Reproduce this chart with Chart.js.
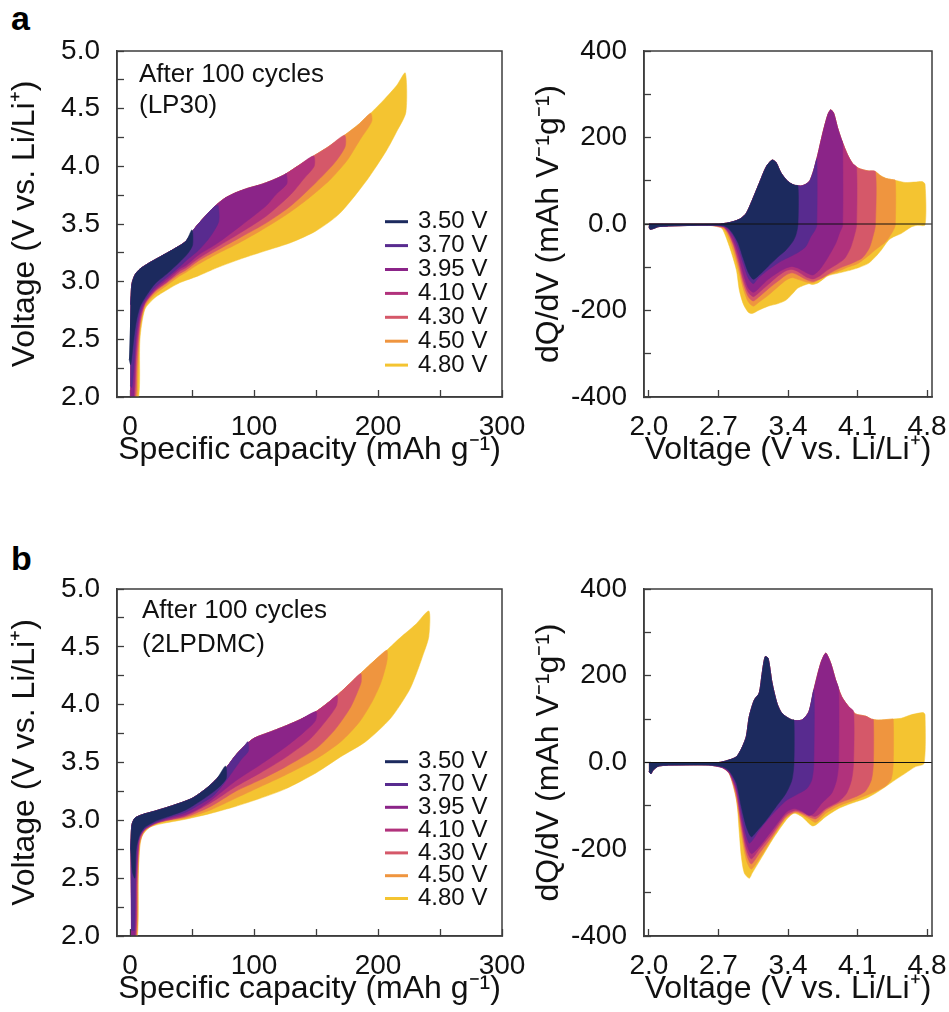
<!DOCTYPE html>
<html>
<head>
<meta charset="utf-8">
<script src="https://cdn.jsdelivr.net/npm/chart.js@4.4.1/dist/chart.umd.min.js"></script>
<style>
  html, body { margin: 0; padding: 0; background: #fff; }
  #page { position: relative; width: 949px; height: 1012px; overflow: hidden; }
  #page canvas { position: absolute; }
  .tag { position: absolute; font: bold 34px 'Liberation Sans', Arial, sans-serif; line-height: 34px; color: #000; }
</style>
</head>
<body>
<div id="page">
  <div class="tag" style="left:11px; top:1px;">a</div>
  <div class="tag" style="left:11px; top:541px;">b</div>
  <canvas id="lp30Volt" width="525" height="460" style="left:0; top:30px;"></canvas>
  <canvas id="lp30Dq" width="424" height="460" style="left:525px; top:30px;"></canvas>
  <canvas id="dmcVolt" width="525" height="444" style="left:0; top:568px;"></canvas>
  <canvas id="dmcDq" width="424" height="444" style="left:525px; top:568px;"></canvas>
</div>
<script>
const FONT = "'Liberation Sans', Arial, Helvetica, sans-serif";
const INK = '#111';
const FRAME = '#3d3d3d';

// upper cut-off voltages, legend order (first one is drawn on top)
const cutoffLabels = ['3.50 V', '3.70 V', '3.95 V', '4.10 V', '4.30 V', '4.50 V', '4.80 V'];
const cutoffColors = ['#1c2a5e', '#582b8f', '#8b2488', '#b1327c', '#d55869', '#ef953f', '#f4c431'];

// axes
const capRange = [-10.5, 300];
const capTicks = [0, 50, 100, 150, 200, 250, 300];
const capTickLabels = ['0', '', '100', '', '200', '', '300'];
const voltRange = [2, 5];
const voltTicks = [2.0, 2.25, 2.5, 2.75, 3.0, 3.25, 3.5, 3.75, 4.0, 4.25, 4.5, 4.75, 5.0];
const voltTickLabels = ['2.0', '', '2.5', '', '3.0', '', '3.5', '', '4.0', '', '4.5', '', '5.0'];
const sweepRange = [1.95, 4.85];
const sweepTicks = [2.0, 2.7, 3.4, 4.1, 4.8];
const sweepTickLabels = ['2.0', '2.7', '3.4', '4.1', '4.8'];
const dqRange = [-400, 400];
const dqTicks = [-400, -300, -200, -100, 0, 100, 200, 300, 400];
const dqTickLabels = ['-400', '', '-200', '', '0.0', '', '200', '', '400'];

// ---- LP30 voltage profiles [capacity, voltage] ----
const lp30Charge = [[0.5,2.80],[1.5,2.98],[4,3.06],[8,3.11],[15,3.16],[25,3.22],[35,3.28],[45,3.35],[52,3.46],[60,3.56],[68,3.65],[76,3.72],[85,3.77],[95,3.81],[105,3.84],[115,3.88],[125,3.93],[135,4.00],[148,4.09],[160,4.17],[173,4.27],[185,4.37],[194,4.46],[205,4.58],[215,4.70],[222,4.81]];
const lp30Dis350 = [[50,3.45],[50.5,3.32],[47,3.25],[40,3.17],[30,3.07],[20,2.98],[12,2.86],[8,2.78],[5,2.65],[3,2.50],[1.5,2.35],[0.5,2.28],[-0.8,2.33]];
const lp30Dis370 = [[71,3.66],[71.5,3.52],[64,3.38],[55,3.27],[45,3.18],[40,3.13],[30,3.04],[20,2.95],[12,2.84],[8,2.74],[5,2.55],[3,2.25],[1.5,2.08],[0.3,2.10]];
const lp30Dis395 = [[126,3.94],[126.5,3.85],[118,3.76],[110,3.66],[90,3.49],[70,3.33],[55,3.23],[45,3.14],[40,3.11],[30,3.02],[20,2.93],[12,2.82],[8,2.70],[5,2.45],[3.2,2.05],[3,2.00],[0.3,2.00]];
const lp30Dis410 = [[148,4.09],[148.5,4.00],[140,3.89],[130,3.76],[110,3.57],[90,3.43],[70,3.30],[55,3.20],[45,3.12],[40,3.09],[30,3.00],[20,2.92],[12,2.81],[8,2.66],[5,2.35],[3.5,2.00],[0.3,2.00]];
const lp30Dis430 = [[173,4.27],[173.5,4.17],[165,4.03],[150,3.86],[130,3.66],[110,3.51],[90,3.39],[70,3.27],[55,3.18],[45,3.10],[40,3.07],[30,2.99],[20,2.91],[12,2.80],[8,2.62],[5.5,2.25],[4.5,2.00],[0.3,2.00]];
const lp30Dis450 = [[194,4.46],[195,4.39],[185.5,4.23],[175,4.05],[161,3.88],[142.5,3.71],[126,3.58],[105,3.44],[85,3.32],[70,3.24],[55,3.15],[45,3.08],[40,3.05],[30,2.97],[20,2.89],[12,2.78],[8,2.58],[6,2.10],[5.5,2.00],[0.5,2.00]];
const lp30Dis480 = [[222,4.81],[222.5,4.47],[215,4.30],[207,4.14],[191,3.88],[169,3.59],[150,3.44],[130,3.34],[110,3.27],[90,3.20],[70,3.12],[55,3.05],[40,2.99],[30,2.93],[20,2.86],[12,2.76],[8,2.50],[7,2.00],[1,2.00]];

// ---- 2LPDMC voltage profiles [capacity, voltage] ----
const dmcCharge = [[0.5,2.75],[1.5,2.96],[4,3.02],[10,3.05],[20,3.08],[35,3.13],[50,3.19],[62,3.28],[70,3.36],[78,3.46],[85,3.56],[92,3.64],[100,3.71],[112,3.76],[124,3.81],[137,3.87],[150,3.94],[160,4.02],[168,4.09],[177,4.18],[186,4.27],[196,4.37],[207,4.47],[218,4.58],[230,4.69],[241,4.81]];
const dmcDis350 = [[77,3.47],[77.5,3.36],[70,3.27],[60,3.19],[45,3.09],[30,3.03],[20,2.99],[12,2.94],[8,2.88],[5,2.75],[4,2.50],[2,2.55],[0.5,2.75]];
const dmcDis370 = [[95,3.68],[95.5,3.60],[90,3.53],[80,3.38],[68,3.22],[55,3.13],[45,3.07],[30,3.02],[20,2.98],[12,2.93],[8,2.87],[6,2.80],[4.5,2.50],[3.5,2.05],[1,2.05]];
const dmcDis395 = [[150,3.94],[149.5,3.86],[140,3.76],[125,3.63],[105,3.48],[85,3.34],[65,3.17],[55,3.10],[45,3.05],[30,3.01],[20,2.975],[12,2.925],[8,2.86],[6.5,2.75],[5,2.50],[4,2.00],[0.8,2.00]];
const dmcDis410 = [[167,4.08],[166.5,3.99],[158,3.86],[145,3.70],[125,3.54],[105,3.41],[85,3.29],[65,3.15],[45,3.04],[30,3.00],[20,2.97],[12,2.92],[8,2.855],[7,2.80],[5.5,2.50],[4.5,2.00],[0.8,2.00]];
const dmcDis430 = [[186,4.27],[186.5,4.20],[185,4.15],[178,3.98],[165,3.78],[150,3.62],[125,3.46],[105,3.35],[85,3.25],[65,3.12],[45,3.03],[25,2.99],[12,2.915],[7.5,2.80],[6,2.50],[5,2.00],[1,2.00]];
const dmcDis450 = [[207,4.47],[207.5,4.40],[206,4.32],[202,4.18],[195,4.02],[185,3.85],[170,3.68],[150,3.53],[125,3.39],[105,3.29],[85,3.19],[65,3.09],[45,3.02],[25,2.985],[12,2.91],[8,2.80],[6.5,2.50],[5.5,2.00],[1,2.00]];
const dmcDis480 = [[241,4.81],[241,4.59],[236,4.42],[231,4.27],[225,4.12],[210,3.88],[190,3.68],[170,3.55],[150,3.41],[125,3.27],[105,3.19],[85,3.12],[65,3.06],[45,3.01],[25,2.97],[16,2.94],[10,2.87],[8,2.78],[6.7,2.54],[6,2.00],[1.5,2.00]];

// ---- LP30 dQ/dV [voltage, dQ/dV] ----
const lp30DqCharge = [[2.0,0],[2.7,0],[2.78,2],[2.84,5],[2.92,12],[2.98,25],[3.04,55],[3.11,94],[3.18,132],[3.24,148],[3.28,142],[3.33,118],[3.4,98],[3.46,90],[3.53,88],[3.58,92],[3.62,100],[3.66,125],[3.7,160],[3.75,210],[3.8,252],[3.83,264],[3.86,256],[3.9,222],[3.94,194],[4.0,160],[4.05,140],[4.11,129],[4.2,123],[4.28,121],[4.33,112],[4.38,106],[4.44,103],[4.5,100],[4.58,96],[4.68,97],[4.75,98],[4.78,92]];
const lp30DqDis350 = [[3.50,88],[3.50,-2],[3.48,-25],[3.45,-40],[3.38,-60],[3.3,-76],[3.2,-98],[3.1,-120],[3.05,-128],[3.0,-112],[2.95,-80],[2.9,-45],[2.85,-24],[2.8,-10],[2.75,-4],[2.6,-3],[2.3,-4],[2.1,-6],[2.04,-11],[2.01,-12],[2.0,-6]];
const lp30DqDis370 = [[3.69,150],[3.69,-3],[3.67,-15],[3.63,-29],[3.58,-52],[3.5,-66],[3.45,-72],[3.38,-80],[3.3,-90],[3.2,-106],[3.1,-125],[3.05,-138],[3.0,-125],[2.95,-92],[2.9,-55],[2.85,-28],[2.8,-12],[2.75,-5],[2.6,-3],[2.3,-4],[2.1,-6],[2.04,-11],[2.01,-12],[2.0,-6]];
const lp30DqDis395 = [[3.95,188],[3.95,-3],[3.92,-20],[3.88,-45],[3.8,-78],[3.72,-105],[3.65,-118],[3.58,-112],[3.5,-102],[3.44,-98],[3.38,-102],[3.3,-112],[3.2,-128],[3.1,-150],[3.05,-158],[3.0,-148],[2.95,-115],[2.9,-70],[2.85,-38],[2.8,-17],[2.75,-6],[2.6,-3],[2.3,-4],[2.1,-6],[2.04,-11],[2.01,-12],[2.0,-6]];
const lp30DqDis410 = [[4.09,131],[4.09,-3],[4.07,-25],[4.03,-55],[3.97,-80],[3.9,-92],[3.8,-106],[3.72,-120],[3.65,-127],[3.58,-122],[3.5,-110],[3.44,-105],[3.38,-108],[3.3,-120],[3.2,-140],[3.1,-160],[3.05,-168],[3.0,-158],[2.95,-128],[2.9,-82],[2.85,-45],[2.8,-20],[2.75,-7],[2.6,-3],[2.3,-4],[2.1,-6],[2.04,-11],[2.01,-12],[2.0,-6]];
const lp30DqDis430 = [[4.28,121],[4.28,-3],[4.26,-25],[4.22,-55],[4.15,-78],[4.05,-90],[3.95,-99],[3.85,-110],[3.75,-124],[3.65,-133],[3.58,-128],[3.5,-118],[3.44,-113],[3.38,-118],[3.3,-132],[3.2,-150],[3.1,-170],[3.05,-178],[3.0,-168],[2.95,-138],[2.9,-92],[2.85,-50],[2.8,-23],[2.75,-8],[2.6,-3],[2.3,-4],[2.1,-6],[2.04,-11],[2.01,-12],[2.0,-6]];
const lp30DqDis450 = [[4.48,101],[4.48,-3],[4.46,-15],[4.42,-30],[4.38,-42],[4.3,-56],[4.2,-75],[4.1,-92],[4.0,-100],[3.9,-110],[3.8,-118],[3.72,-128],[3.65,-136],[3.58,-134],[3.5,-128],[3.44,-124],[3.38,-130],[3.3,-145],[3.2,-165],[3.1,-182],[3.05,-190],[3.0,-180],[2.95,-150],[2.9,-105],[2.85,-62],[2.8,-30],[2.75,-11],[2.6,-3],[2.3,-4],[2.1,-6],[2.04,-11],[2.01,-12],[2.0,-6]];
const lp30DqDis480 = [[4.78,92],[4.78,-2],[4.7,-3],[4.64,-7],[4.54,-22],[4.46,-30],[4.41,-38],[4.34,-60],[4.28,-76],[4.21,-91],[4.12,-100],[4.04,-106],[3.9,-114],[3.8,-120],[3.71,-135],[3.65,-140],[3.61,-138],[3.5,-148],[3.45,-160],[3.38,-176],[3.3,-184],[3.2,-190],[3.1,-200],[3.04,-207],[3.0,-204],[2.95,-185],[2.91,-153],[2.88,-106],[2.81,-52],[2.75,-16],[2.71,-4],[2.6,-3],[2.3,-4],[2.1,-6],[2.04,-11],[2.01,-12],[2.0,-6]];

// ---- 2LPDMC dQ/dV [voltage, dQ/dV] ----
const dmcDqCharge = [[2.0,0],[2.7,0],[2.78,4],[2.88,13],[2.94,36],[2.98,60],[3.01,106],[3.06,144],[3.11,160],[3.14,206],[3.17,244],[3.2,240],[3.24,183],[3.29,136],[3.34,113],[3.44,98],[3.54,98],[3.61,117],[3.66,167],[3.73,229],[3.78,252],[3.83,229],[3.88,190],[3.94,152],[4.01,129],[4.08,112],[4.18,107],[4.24,100],[4.31,98],[4.44,100],[4.54,102],[4.64,110],[4.76,115],[4.78,110]];
const dmcDqDis350 = [[3.46,98],[3.46,-2],[3.44,-40],[3.38,-71],[3.28,-102],[3.18,-133],[3.08,-160],[3.03,-171],[2.98,-148],[2.93,-102],[2.88,-48],[2.81,-20],[2.74,-10],[2.6,-6],[2.3,-6],[2.1,-8],[2.04,-18],[2.02,-26],[2.0,-20]];
const dmcDqDis370 = [[3.66,167],[3.66,-2],[3.64,-40],[3.59,-60],[3.48,-75],[3.38,-88],[3.24,-120],[3.11,-156],[3.04,-180],[3.01,-186],[2.97,-160],[2.93,-115],[2.88,-55],[2.81,-22],[2.74,-11],[2.6,-6],[2.3,-6],[2.1,-8],[2.04,-18],[2.02,-26],[2.0,-20]];
const dmcDqDis395 = [[3.91,170],[3.91,-2],[3.89,-40],[3.84,-71],[3.74,-94],[3.66,-117],[3.61,-122],[3.54,-112],[3.46,-106],[3.38,-115],[3.24,-156],[3.11,-194],[3.03,-210],[2.98,-185],[2.93,-130],[2.88,-62],[2.81,-24],[2.74,-12],[2.6,-6],[2.3,-6],[2.1,-8],[2.04,-18],[2.02,-26],[2.0,-20]];
const dmcDqDis410 = [[4.06,118],[4.06,-2],[4.04,-40],[3.99,-71],[3.91,-90],[3.78,-106],[3.68,-124],[3.6,-120],[3.48,-110],[3.38,-120],[3.24,-163],[3.11,-200],[3.03,-222],[2.98,-198],[2.93,-140],[2.88,-68],[2.81,-25],[2.74,-12],[2.6,-6],[2.3,-6],[2.1,-8],[2.04,-18],[2.02,-26],[2.0,-20]];
const dmcDqDis430 = [[4.26,99],[4.26,-2],[4.24,-40],[4.18,-66],[4.08,-79],[3.91,-94],[3.78,-110],[3.68,-130],[3.6,-124],[3.48,-113],[3.38,-125],[3.24,-170],[3.11,-210],[3.03,-234],[2.98,-210],[2.93,-150],[2.88,-75],[2.81,-25],[2.74,-12],[2.6,-6],[2.3,-6],[2.1,-8],[2.04,-18],[2.02,-26],[2.0,-20]];
const dmcDqDis450 = [[4.46,100],[4.46,-2],[4.44,-38],[4.38,-55],[4.28,-67],[4.1,-84],[3.91,-100],[3.78,-117],[3.68,-138],[3.6,-128],[3.48,-115],[3.38,-128],[3.24,-175],[3.11,-222],[3.03,-246],[2.98,-225],[2.93,-165],[2.88,-85],[2.81,-27],[2.74,-12],[2.6,-6],[2.3,-6],[2.1,-8],[2.04,-18],[2.02,-26],[2.0,-20]];
const dmcDqDis480 = [[4.78,110],[4.77,-2],[4.68,-10],[4.58,-25],[4.48,-40],[4.38,-56],[4.28,-71],[4.18,-83],[4.04,-94],[3.91,-106],[3.78,-125],[3.68,-144],[3.64,-146],[3.54,-125],[3.46,-117],[3.38,-133],[3.24,-179],[3.14,-217],[3.04,-255],[3.01,-267],[2.96,-255],[2.93,-217],[2.91,-163],[2.89,-102],[2.86,-56],[2.81,-25],[2.76,-13],[2.71,-9],[2.6,-6],[2.3,-6],[2.1,-8],[2.04,-18],[2.02,-26],[2.0,-20]];

const lp30Discharge = [lp30Dis350, lp30Dis370, lp30Dis395, lp30Dis410, lp30Dis430, lp30Dis450, lp30Dis480];
const dmcDischarge = [dmcDis350, dmcDis370, dmcDis395, dmcDis410, dmcDis430, dmcDis450, dmcDis480];
const lp30DqDischarge = [lp30DqDis350, lp30DqDis370, lp30DqDis395, lp30DqDis410, lp30DqDis430, lp30DqDis450, lp30DqDis480];
const dmcDqDischarge = [dmcDqDis350, dmcDqDis370, dmcDqDis395, dmcDqDis410, dmcDqDis430, dmcDqDis450, dmcDqDis480];

// closed loop = charge branch up to the cut-off, then the discharge branch back
function loop(charge, discharge, gap) {
  const end = discharge[0][0];
  return charge.filter(p => p[0] < end - gap).concat(discharge).map(p => ({x: p[0], y: p[1]}));
}

function loopSets(charge, discharges, gap) {
  return discharges.map((d, i) => ({
    label: cutoffLabels[i],
    data: loop(charge, d, gap),
    fill: 'shape',
    backgroundColor: cutoffColors[i],
    borderColor: cutoffColors[i],
    borderWidth: 0.5,
    pointRadius: 0,
    tension: 0.25
  }));
}

function axis(range, ticks, labels, title, size, titlePad) {
  return {
    type: 'linear',
    min: range[0],
    max: range[1],
    afterBuildTicks: ax => { ax.ticks = ticks.map(v => ({value: v})); },
    afterFit: ax => {
      if (ax.isHorizontal()) ax.height = size; else ax.width = size;
      ax.paddingLeft = 0; ax.paddingRight = 0; ax.paddingTop = 0; ax.paddingBottom = 0;
    },
    ticks: {
      callback: (v, i) => labels[i],
      autoSkip: false, maxRotation: 0,
      font: {family: FONT, size: 28}, color: INK,
      padding: size > 100 ? 24 : 20.5
    },
    grid: {drawOnChartArea: false, drawTicks: true, tickLength: -7, tickColor: FRAME, tickWidth: 1.3},
    border: {display: true, color: FRAME, width: 1.5},
    title: {display: true, text: title, font: {family: FONT, size: 32}, color: INK, padding: titlePad}
  };
}

const framePlugin = {
  id: 'frame',
  afterDraw(chart) {
    const {ctx, chartArea: a} = chart;
    ctx.save();
    ctx.strokeStyle = FRAME;
    ctx.lineWidth = 1.5;
    ctx.strokeRect(a.left, a.top, a.right - a.left, a.bottom - a.top);
    ctx.restore();
  }
};

function notes(lines, dx, baselines, legTop, legStep) {
  return {
    id: 'notes',
    afterDraw(chart) {
      const {ctx, chartArea: a} = chart;
      ctx.save();
      ctx.fillStyle = INK;
      ctx.font = '26px ' + FONT;
      ctx.textBaseline = 'alphabetic';
      lines.forEach((t, i) => ctx.fillText(t, a.left + dx, a.top + baselines[i]));
      ctx.font = '24px ' + FONT;
      ctx.textBaseline = 'middle';
      cutoffLabels.forEach((t, i) => {
        const y = a.top + legTop + i * legStep;
        ctx.strokeStyle = cutoffColors[i];
        ctx.lineWidth = 3;
        ctx.beginPath();
        ctx.moveTo(a.left + 268, y);
        ctx.lineTo(a.left + 291, y);
        ctx.stroke();
        ctx.fillText(t, a.left + 301, y);
      });
      ctx.restore();
    }
  };
}

function panel(id, datasets, x, y, pad, extra) {
  new Chart(document.getElementById(id), {
    type: 'line',
    data: {datasets: datasets},
    options: {
      responsive: false,
      animation: false,
      events: [],
      layout: {padding: pad},
      scales: {x: x, y: y},
      plugins: {legend: {display: false}, tooltip: {enabled: false}}
    },
    plugins: extra ? [framePlugin, extra] : [framePlugin]
  });
}

function zeroLine() {
  return {
    data: [{x: sweepRange[0], y: 0}, {x: sweepRange[1], y: 0}],
    borderColor: '#111', borderWidth: 1.2, pointRadius: 0, fill: false
  };
}

const capTitle = 'Specific capacity (mAh g\u207B\u00B9)';
const voltTitle = 'Voltage (V vs. Li/Li\u207A)';
const dqTitle = 'dQ/dV (mAh V\u207B\u00B9g\u207B\u00B9)';

panel('lp30Volt', loopSets(lp30Charge, lp30Discharge, 0.5),
  axis(capRange, capTicks, capTickLabels, capTitle, 72, {top: 0, bottom: 0}),
  axis(voltRange, voltTicks, voltTickLabels, voltTitle, 117, {top: 5.7, bottom: 0}),
  {left: 0, top: 21, right: 23, bottom: 21},
  notes(['After 100 cycles', '(LP30)'], 22, [30.7, 62.3], 170.7, 23.9));

panel('lp30Dq', [zeroLine()].concat(loopSets(lp30DqCharge, lp30DqDischarge, 0.005)),
  axis(sweepRange, sweepTicks, sweepTickLabels, voltTitle, 72, {top: 0, bottom: 0}),
  axis(dqRange, dqTicks, dqTickLabels, dqTitle, 119, {top: 4.8, bottom: 0}),
  {left: 0, top: 21, right: 17, bottom: 21});

panel('dmcVolt', loopSets(dmcCharge, dmcDischarge, 0.5),
  axis(capRange, capTicks, capTickLabels, capTitle, 72, {top: 0, bottom: 0}),
  axis(voltRange, voltTicks, voltTickLabels, voltTitle, 117, {top: 5.7, bottom: 0}),
  {left: 0, top: 21, right: 23, bottom: 4},
  notes(['After 100 cycles', '(2LPDMC)'], 25, [29.3, 62.7], 172.7, 22.8));

panel('dmcDq', [zeroLine()].concat(loopSets(dmcDqCharge, dmcDqDischarge, 0.005)),
  axis(sweepRange, sweepTicks, sweepTickLabels, voltTitle, 72, {top: 0, bottom: 0}),
  axis(dqRange, dqTicks, dqTickLabels, dqTitle, 119, {top: 4.8, bottom: 0}),
  {left: 0, top: 21, right: 17, bottom: 4});
</script>
</body>
</html>
